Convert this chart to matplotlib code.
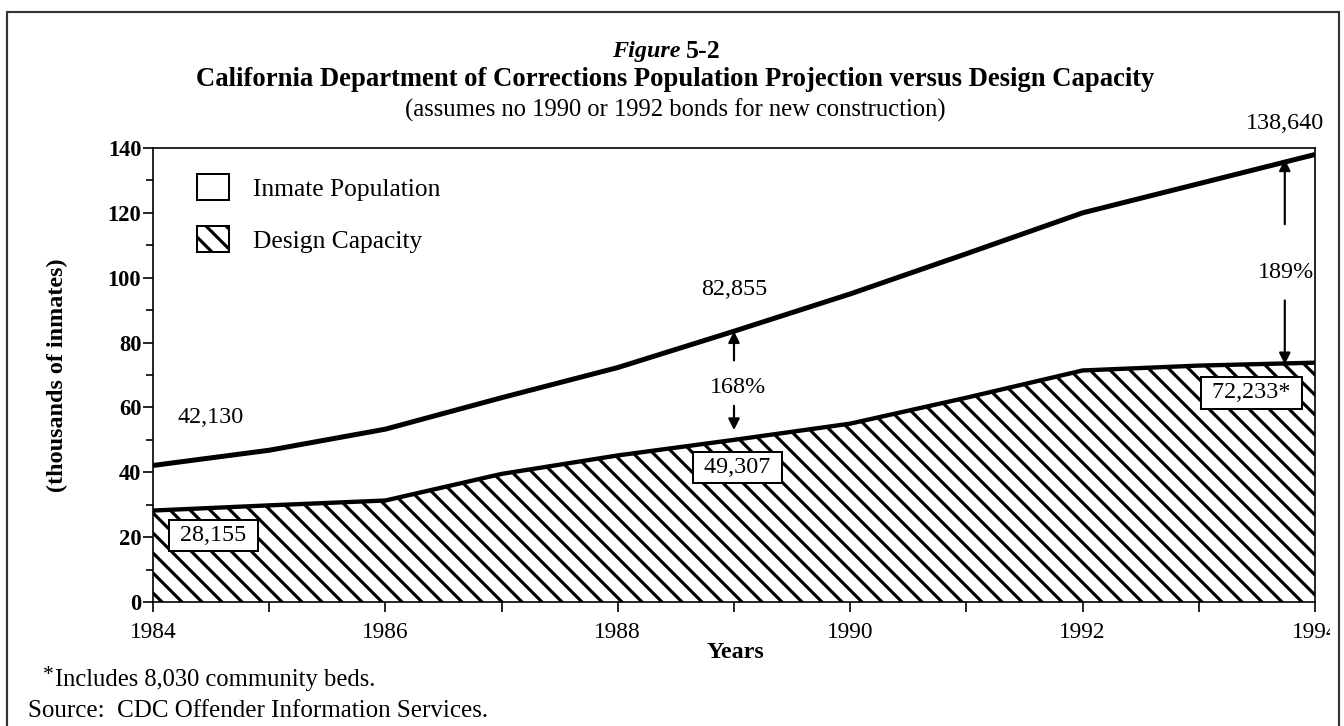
import matplotlib
matplotlib.use('Agg')
import matplotlib.pyplot as plt
from matplotlib.patches import Patch, Rectangle

# values (thousands of inmates)
years = [1984, 1985, 1986, 1987, 1988, 1989, 1990, 1991, 1992, 1993, 1994]
inmates = [42.1, 46.8, 53.3, 63.0, 72.3, 83.5, 95.0, 107.4, 120.0, 129.0, 138.0]
capacity = [28.2, 29.8, 31.3, 39.5, 45.2, 50.0, 55.0, 63.0, 71.4, 72.9, 73.8]

tick_years = list(range(1984, 1995))
tick_labels = ['1984', '', '1986', '', '1988', '', '1990', '', '1992', '', '1994']

# value labels: (text, x, y, boxed)
value_labels = [
    ('42,130', 1984.5, 57.0, False),
    ('28,155', 1984.52, 20.5, True),
    ('82,855', 1989.0, 96.5, False),
    ('49,307', 1989.03, 41.5, True),
    ('138,640', 1993.74, 147.5, False),
    ('72,233*', 1993.45, 64.5, True),
]
pct_labels = [('168%', 1989.03, 66.0), ('189%', 1993.75, 101.5)]
# arrows: (x, tail, tip)
arrows = [
    (1989.0, 74.5, 83.5), (1989.0, 60.5, 53.0),
    (1993.74, 116.5, 136.5), (1993.74, 93.0, 73.3),
]

plt.rcParams['font.family'] = ['Liberation Serif', 'DejaVu Serif']
plt.rcParams['hatch.linewidth'] = 1.9

W, H = 1344, 726
fig = plt.figure(figsize=(W / 120, H / 120), dpi=120)
ax = fig.add_axes([153 / W, 1 - 602 / H, (1315 - 153) / W, (602 - 148) / H])


def fx(px):
    return px / W


def fy(py):
    return 1 - py / H


ax.fill_between(years, 0, capacity, facecolor='white', edgecolor='black',
                hatch='\\\\', linewidth=0)
ax.plot(years, capacity, color='black', lw=2.6, solid_capstyle='butt')
ax.plot(years, inmates, color='black', lw=3.0, solid_capstyle='butt')

ax.set_xlim(1984, 1994)
ax.set_ylim(0, 140)
ax.set_xticks(tick_years)
ax.set_xticklabels(tick_labels, fontsize=14)
ax.set_yticks(range(0, 141, 20))
ax.set_yticks(range(10, 140, 20), minor=True)
ax.tick_params(axis='y', which='major', length=6, width=1, labelsize=13.5, pad=1)
ax.tick_params(axis='y', which='minor', length=4, width=1)
ax.tick_params(axis='x', which='major', length=6, width=1, pad=6)
for lab in ax.get_yticklabels():
    lab.set_fontweight('bold')
for s in ax.spines.values():
    s.set_linewidth(1.0)

# the last year label is cut by the page frame
clip = Rectangle((0, 0), 1330 / W, 1, transform=fig.transFigure)
ax.get_xticklabels()[-1].set_clip_path(clip)

for text, x, y, boxed in value_labels:
    if boxed:
        ax.text(x, y, ' ' + text + ' ', ha='center', va='center', fontsize=14.5,
                zorder=5,
                bbox=dict(boxstyle='square,pad=0.22', fc='white', ec='black', lw=1.2))
    else:
        ax.text(x, y, text, ha='center', va='center', fontsize=14.5, clip_on=False)

for text, x, y in pct_labels:
    ax.text(x, y, text, ha='center', va='center', fontsize=14.5)

for x, tail, tip in arrows:
    ax.annotate('', xy=(x, tip), xytext=(x, tail),
                arrowprops=dict(arrowstyle='-|>', color='black', lw=1.3,
                                mutation_scale=14, shrinkA=0, shrinkB=0))

handles = [Patch(facecolor='white', edgecolor='black', lw=1.2),
           Patch(facecolor='white', edgecolor='black', lw=1.2, hatch='\\\\')]
ax.legend(handles, ['Inmate Population', 'Design Capacity'], loc='upper left',
          bbox_to_anchor=(fx(197), fy(174)), bbox_transform=fig.transFigure,
          frameon=False, fontsize=15.3, handlelength=1.25, handleheight=1.2,
          labelspacing=1.0, handletextpad=0.95, borderpad=0, borderaxespad=0)

fig.text(fx(681), fy(52), 'Figure', ha='right', va='center', fontsize=14.5,
         style='italic', fontweight='bold')
fig.text(fx(686), fy(52), '5-2', ha='left', va='center', fontsize=15.5,
         fontweight='bold')
fig.text(fx(675), fy(80), 'California Department of Corrections Population '
         'Projection versus Design Capacity', ha='center', va='center',
         fontsize=16, fontweight='bold')
fig.text(fx(675), fy(110), '(assumes no 1990 or 1992 bonds for new construction)',
         ha='center', va='center', fontsize=14.8)

fig.text(fx(57), fy(375), '(thousands of inmates)', rotation=90, ha='center',
         va='center', fontsize=14.5, fontweight='bold')
fig.text(fx(735), fy(652), 'Years', ha='center', va='center', fontsize=14.5,
         fontweight='bold')
fig.text(fx(43), fy(676), '*', ha='left', va='center', fontsize=13)
fig.text(fx(55), fy(680), 'Includes 8,030 community beds.', ha='left',
         va='center', fontsize=14.8)
fig.text(fx(28), fy(711), 'Source:  CDC Offender Information Services.',
         ha='left', va='center', fontsize=15)

fig.patches.append(Rectangle((fx(7), -0.1), fx(1339) - fx(7), fy(12) + 0.1,
                             transform=fig.transFigure, fill=False,
                             edgecolor='#333333', lw=1.3))

fig.savefig('out.png', dpi=120)
